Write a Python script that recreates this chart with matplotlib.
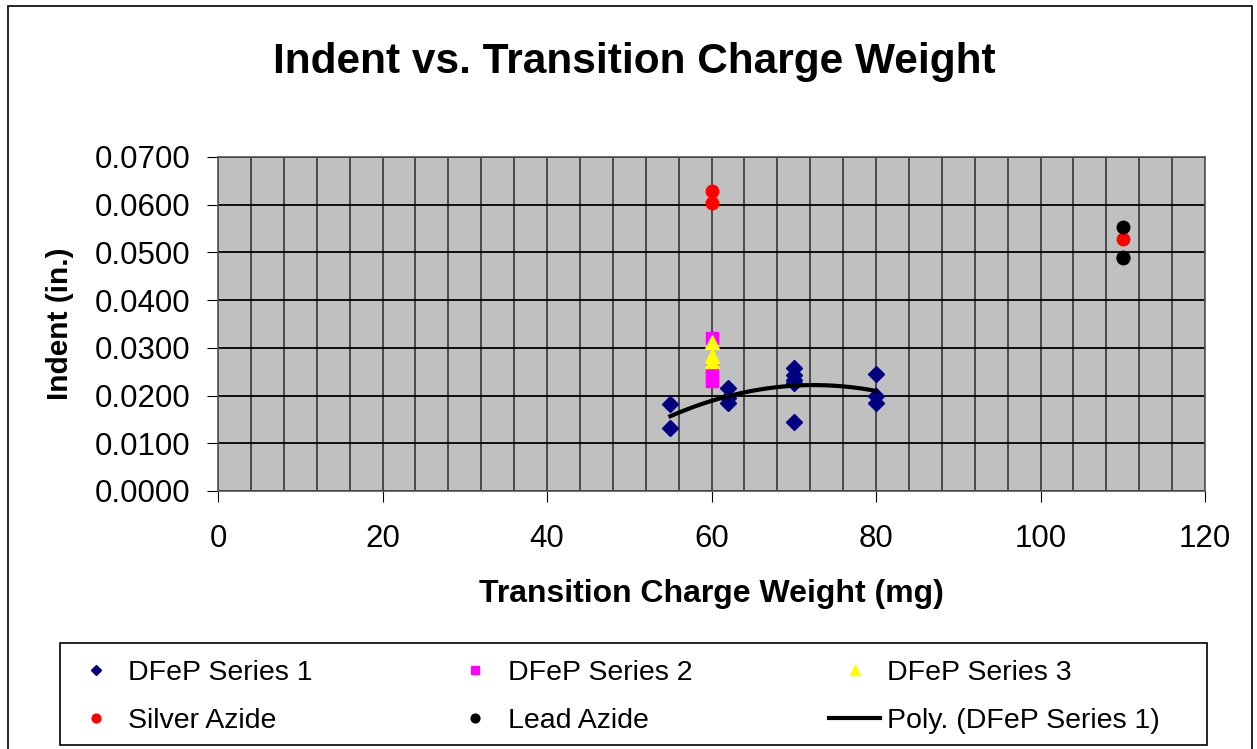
import numpy as np
import matplotlib.pyplot as plt
from matplotlib.patches import Rectangle

plt.rcParams['font.family'] = ['Liberation Sans', 'DejaVu Sans']

# data
s1_x = [55, 55, 62, 62, 62, 70, 70, 70, 70, 70, 80, 80, 80]
s1_y = [0.0182, 0.0132, 0.0215, 0.0195, 0.0185,
        0.0257, 0.0243, 0.0233, 0.0226, 0.0145,
        0.0245, 0.0199, 0.0185]
s2_x = [60, 60, 60, 60]
s2_y = [0.0320, 0.0260, 0.0240, 0.0230]
s3_x = [60, 60, 60]
s3_y = [0.0313, 0.0282, 0.0272]
silver_x = [60, 60, 110]
silver_y = [0.0629, 0.0603, 0.0528]
lead_x = [110, 110, 110]
lead_y = [0.0554, 0.0488, 0.0490]

W, H = 1257, 749
fig = plt.figure(figsize=(W/100, H/100), dpi=100)
fig.patches.append(Rectangle((8/W, -0.02), 1244/W, 1.02 - 6/H,
                             transform=fig.transFigure, fill=False,
                             edgecolor='black', linewidth=1.2))

ax = fig.add_axes([218/W, 1 - 491/H, 987/W, 334/H])
ax.set_facecolor('#C0C0C0')

ax.set_xlim(0, 120)
ax.set_ylim(0, 0.07)
ax.set_xticks(np.arange(0, 121, 20))
ax.set_xticks(np.arange(0, 121, 4), minor=True)
yt = np.arange(0, 0.0701, 0.01)
ax.set_yticks(yt)
ax.set_yticklabels(['%.4f' % v for v in yt])
ax.grid(True, which='both', axis='x', color='#404040', linewidth=1.3)
ax.grid(True, which='major', axis='y', color='black', linewidth=1.3)
ax.set_axisbelow(True)
ax.tick_params(axis='x', which='minor', length=0)
ax.tick_params(axis='both', which='major', labelsize=22.5, length=8, color='black')
ax.tick_params(axis='x', which='major', pad=16)
ax.tick_params(axis='y', which='major', pad=12)
for sp in ax.spines.values():
    sp.set_color('#555555')
    sp.set_linewidth(1.2)

h1, = ax.plot(s1_x, s1_y, 'D', color='#000080', markersize=8, linestyle='none', zorder=3)
h2, = ax.plot(s2_x, s2_y, 's', color='#FF00FF', markersize=9, linestyle='none', zorder=3)
h3, = ax.plot(s3_x, s3_y, '^', color='#FFFF00', markersize=10, linestyle='none', zorder=3)
h4, = ax.plot(silver_x, silver_y, 'o', color='#FF0000', markersize=9, linestyle='none', zorder=3)
h5, = ax.plot(lead_x, lead_y, 'o', color='black', markersize=9, linestyle='none', zorder=3)

coef = np.polyfit(s1_x, s1_y, 2)
xx = np.linspace(min(s1_x), max(s1_x), 100)
h6, = ax.plot(xx, np.polyval(coef, xx), color='black', linewidth=3, zorder=4)

fig.text(634/W, 1 - 62/H, 'Indent vs. Transition Charge Weight', fontsize=30.5,
         fontweight='bold', ha='center', va='center')
ax.set_xlabel('Transition Charge Weight (mg)', fontsize=23, fontweight='bold', labelpad=18)
ax.set_ylabel('Indent (in.)', fontsize=21.5, fontweight='bold', labelpad=15)

# legend frame
fig.patches.append(Rectangle((60/W, 4/H), 1147/W, (749 - 643 - 4)/H,
                             transform=fig.transFigure, fill=False,
                             edgecolor='black', linewidth=1.2))

leg = fig.legend([h1, h4, h2, h5, h3, h6],
                 ['DFeP Series 1', 'Silver Azide', 'DFeP Series 2', 'Lead Azide',
                  'DFeP Series 3', 'Poly. (DFeP Series 1)'],
                 ncol=3, loc='upper left', bbox_to_anchor=(70/W, 1 - 660/H),
                 fontsize=20.5, frameon=False, markerscale=0.7,
                 handlelength=1.8, handletextpad=0.25, columnspacing=4.8,
                 labelspacing=0.78, borderpad=0, borderaxespad=0)

fig.savefig('out.png', dpi=100)
